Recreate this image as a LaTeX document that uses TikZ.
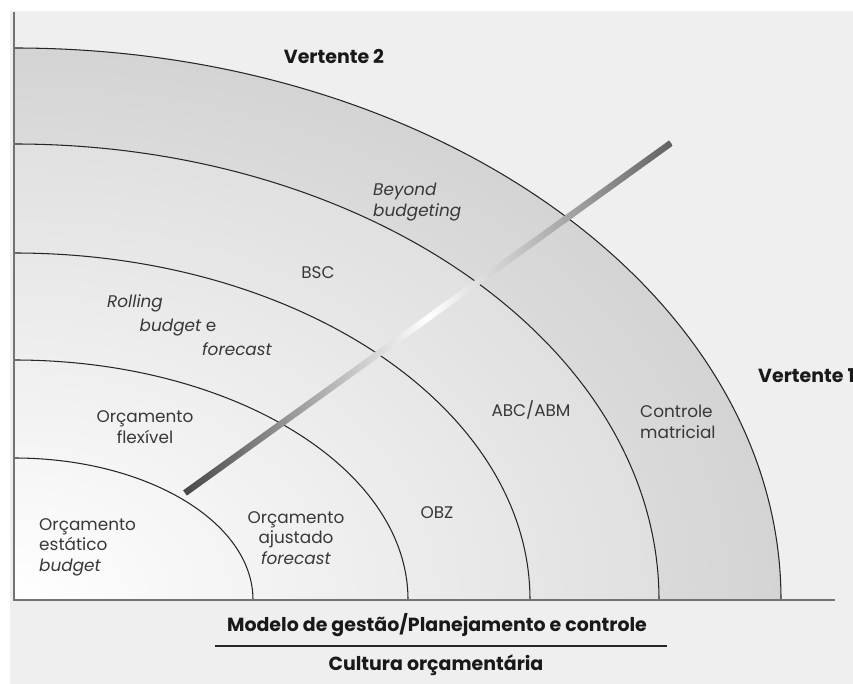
\documentclass[tikz,border=0pt]{standalone}
\usepackage{fontspec}
\setmainfont{Poppins}
\usetikzlibrary{calc}

\definecolor{bggray}{HTML}{EFEFEF}
\definecolor{txtgray}{HTML}{383838}
\definecolor{ringline}{HTML}{262626}

\tikzstyle{lbl} = [text=txtgray, inner sep=0pt, font=\fontsize{14.4}{17.4}\selectfont]
\tikzstyle{ilbl} = [lbl, font=\fontsize{14.4}{17.4}\selectfont\itshape]
\tikzstyle{title} = [text=black!90, inner sep=0pt, font=\fontsize{16.2}{19}\selectfont\bfseries]
\tikzstyle{ring} = [draw=ringline, line width=0.9pt]
\tikzstyle{axis} = [draw=black!55, line width=1.2pt]

\begin{document}
\begin{tikzpicture}[x=0.03cm, y=0.03cm]
\useasboundingbox (-14,-84) rectangle (839,600);
\fill[bggray] (-4,-84) rectangle (839,589);

% Shaded quadrant
	\begin{scope}
	\clip (0,0) -- (767,0) arc[start angle=0, end angle=90, x radius=767, y radius=552] -- cycle;
	\shade[inner color=white, outer color=gray!58] (0,0) ellipse [x radius=1534, y radius=1104];
	\fill[gray, opacity=0.06] (645,0) arc[start angle=0, end angle=90, x radius=645, y radius=456]
		-- (0,552) arc[start angle=90, end angle=0, x radius=767, y radius=552] -- cycle;
	\end{scope}

% Rings
	\draw[ring] (239,0) arc[start angle=0, end angle=90, x radius=239, y radius=142];
	\draw[ring] (394,0) arc[start angle=0, end angle=90, x radius=394, y radius=240];
	\draw[ring] (516,0) arc[start angle=0, end angle=90, x radius=516, y radius=347];
	\draw[ring] (645,0) arc[start angle=0, end angle=90, x radius=645, y radius=456];
	\draw[ring] (767,0) arc[start angle=0, end angle=90, x radius=767, y radius=552];

% Axes
	\coordinate (orig) at (0,0);
	\coordinate (ytop) at (0,588);
	\coordinate (xend) at (821,0);
	\draw[axis] (ytop) -- (orig) -- (xend);

% Bar
	\coordinate (barA) at (171,107);
	\coordinate (barB) at (657,457);
	\shade[left color=black!72, right color=black!62, middle color=white]
		($(barA)+(-1.9,2.6)$) -- ($(barB)+(-1.9,2.6)$) -- ($(barB)+(1.9,-2.6)$) -- ($(barA)+(1.9,-2.6)$) -- cycle;

% Vertentes
	\node[title] at (320,543) (v2) {Vertente 2};
	\node[title, anchor=west] at (744,224) (v1) {Vertente 1};

% Ring labels
	\node[lbl, align=left, anchor=west] at (25,53) (estatico) {Orçamento\\estático\\\textit{budget}};
	\node[lbl, align=center] at (131,173) (flexivel) {Orçamento\\flexível};
	\node[ilbl] at (121,297) (rolling) {Rolling};
	\node[ilbl] at (164,272) (budgete) {budget\upshape{} e};
	\node[ilbl] at (223,251) (forecast) {forecast};
	\node[lbl] at (304,327) (bsc) {BSC};
	\node[ilbl, align=left, anchor=west] at (359,398) (beyond) {Beyond\\budgeting};
	\node[lbl, align=center] at (282,62) (ajustado) {Orçamento\\ajustado\\\textit{forecast}};
	\node[lbl] at (423,87) (obz) {OBZ};
	\node[lbl] at (517,190) (abc) {ABC/ABM};
	\node[lbl, align=left, anchor=west] at (626,178) (matricial) {Controle\\matricial};

% Bottom
	\node[title] at (423,-25) (modelo) {Modelo de gestão/Planejamento e controle};
	\coordinate (ruleL) at (201,-46);
	\coordinate (ruleR) at (653,-46);
	\draw[black!85, line width=1.1pt] (ruleL) -- (ruleR);
	\node[title] at (422,-65) (cultura) {Cultura orçamentária};

\end{tikzpicture}
\end{document}
